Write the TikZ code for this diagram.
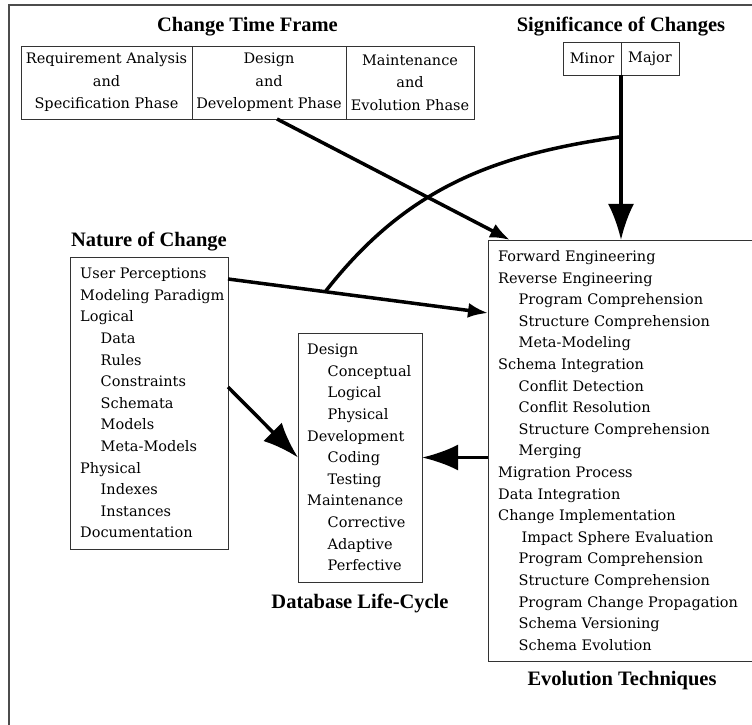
\documentclass[tikz,border=0pt]{standalone}
\usepackage{fontspec}
\setmainfont{DejaVu Serif}
\newfontfamily\titlefont{Liberation Serif}
\usetikzlibrary{arrows.meta,chains,positioning,calc}
\newcommand{\listfont}{\fontsize{14.5}{21.6}\selectfont}
\newcommand{\ind}{\hspace*{20.5pt}}

\begin{document}
\begin{tikzpicture}[x=1pt,y=1pt,
cell/.style={draw=black!80, line width=0.8pt, align=center, inner sep=0pt, outer sep=0pt, font=\fontsize{14.5}{22.5}\selectfont},
listbox/.style={draw=black!80, line width=0.8pt, inner sep=0pt, outer sep=0pt},
listtext/.style={anchor=west, align=left, inner sep=0pt, font=\listfont},
title/.style={anchor=base, inner sep=0pt, font=\titlefont\bfseries\fontsize{20.5}{24}\selectfont},
bigarrow/.style={-{Latex[length=36pt,width=26pt]}, line width=3.5pt},
smallarrow/.style={-{Latex[length=20pt,width=15pt]}, line width=3.5pt},
node distance=0pt
]
\useasboundingbox (0,0) rectangle (752,724);
\clip (0,0) rectangle (752,724);
\draw[black!70, line width=1.2pt] (9,-5) -- (9,719) -- (760,719);

% change time frame
\begin{scope}[start chain=phases going right]
  \node[on chain=phases, cell, minimum width=171pt, minimum height=73pt] at (106.5,641.5) (req) {Requirement Analysis\\and\\Specification Phase};
  \node[on chain=phases, cell, minimum width=154pt, minimum height=73pt] (design) {Design\\and\\Development Phase};
  \node[on chain=phases, cell, minimum width=128pt, minimum height=73pt] (maint) {Maintenance\\and\\Evolution Phase};
\end{scope}
\node[title] at ($(req.north west)!.5!(maint.north east)+(0,14)$) (timeframe) {Change Time Frame};

% significance of changes
\begin{scope}[start chain=signif going right]
  \node[on chain=signif, cell, minimum width=58pt, minimum height=33pt] at (592,665.5) (minor) {Minor};
  \node[on chain=signif, cell, minimum width=58pt, minimum height=33pt] (major) {Major};
\end{scope}
\node[title] at ([yshift=10pt]minor.north east) (signiftitle) {Significance of Changes};

% nature of change
\node[listbox, minimum width=158pt, minimum height=292pt] at (149,321) (nature) {};
\node[listtext] at ([xshift=10pt]nature.west) (naturetext) {User Perceptions\\Modeling Paradigm\\Logical\\
  \ind Data\\\ind Rules\\\ind Constraints\\\ind Schemata\\\ind Models\\\ind Meta-Models\\
  Physical\\\ind Indexes\\\ind Instances\\Documentation};
\node[title] at ([yshift=10pt]nature.north) (naturetitle) {Nature of Change};

% database life-cycle
\node[listbox, minimum width=124pt, minimum height=249pt] at (360,266.5) (db) {};
\node[listtext] at ([xshift=9pt]db.west) (dbtext) {Design\\\ind Conceptual\\\ind Logical\\\ind Physical\\
  Development\\\ind Coding\\\ind Testing\\Maintenance\\\ind Corrective\\\ind Adaptive\\\ind Perfective};
\node[title] at ([yshift=-26pt]db.south) (dbtitle) {Database Life-Cycle};

% evolution techniques
\node[listbox, minimum width=268pt, minimum height=421pt] at (622,273.5) (evo) {};
\node[listtext] at ([xshift=10pt]evo.west) (evotext) {Forward Engineering\\Reverse Engineering\\
  \ind Program Comprehension\\\ind Structure Comprehension\\\ind Meta-Modeling\\
  Schema Integration\\\ind Conflit Detection\\\ind Conflit Resolution\\\ind Structure Comprehension\\\ind Merging\\
  Migration Process\\Data Integration\\Change Implementation\\
  \ind\hspace*{3pt}Impact Sphere Evaluation\\\ind Program Comprehension\\\ind Structure Comprehension\\
  \ind Program Change Propagation\\\ind Schema Versioning\\\ind Schema Evolution};
\node[title] at ([yshift=-24pt]evo.south) (evotitle) {Evolution Techniques};

% connectors
\draw[bigarrow] (minor.south east) -- coordinate[pos=0.374] (sigknot) (minor.south east |- evo.north);
\draw[smallarrow] ([xshift=8pt]design.south) -- ([xshift=22pt]evo.north west);
\draw[smallarrow] ([yshift=-22pt]nature.north east) -- coordinate[pos=0.374] (userknot) ([yshift=-73pt]evo.north west);
\draw[line width=3.5pt] (sigknot) to[out=188,in=52] (userknot);
\draw[bigarrow] ([yshift=16pt]nature.east) -- (db.west);
\draw[bigarrow] (evo.west |- db.east) -- (db.east);
\end{tikzpicture}
\end{document}
